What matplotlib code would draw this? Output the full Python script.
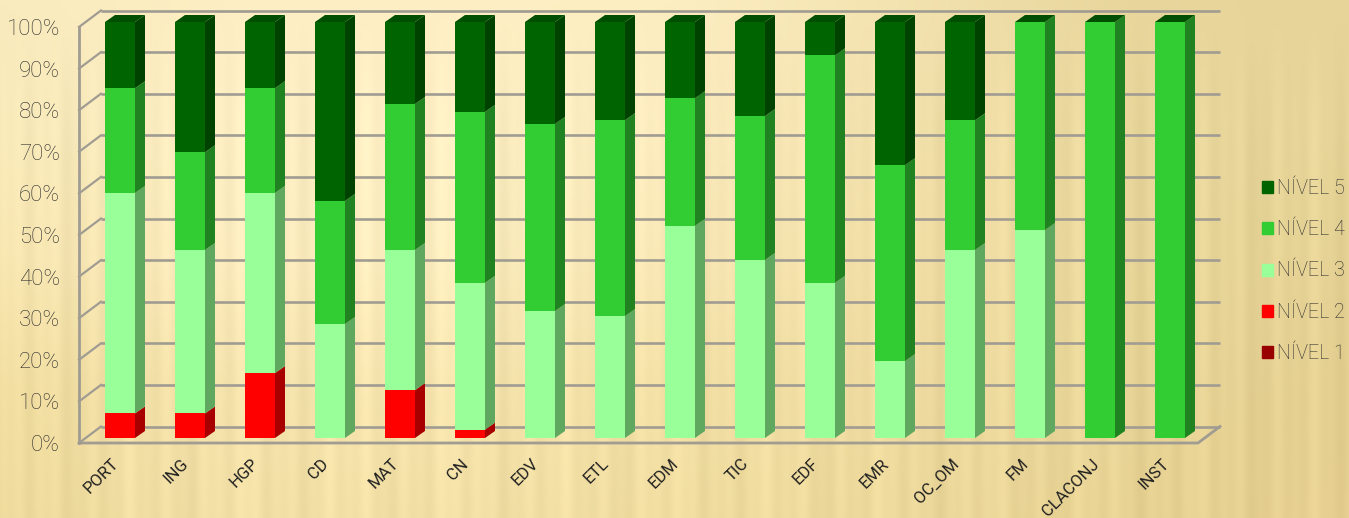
import matplotlib
matplotlib.use("Agg")
import matplotlib.pyplot as plt
from matplotlib.patches import Patch
from matplotlib.transforms import ScaledTranslation
import numpy as np

categories = ["PORT", "ING", "HGP", "CD", "MAT", "CN", "EDV", "ETL", "EDM", "TIC",
              "EDF", "EMR", "OC_OM", "FM", "CLACONJ", "INST"]
# percent of each level per subject
nivel1 = [0, 0, 0, 0, 0, 0, 0, 0, 0, 0, 0, 0, 0, 0, 0, 0]
nivel2 = [5.9, 5.9, 15.6, 0, 11.5, 2, 0, 0, 0, 0, 0, 0, 0, 0, 0, 0]
nivel3 = [53, 39.3, 43.3, 27.4, 33.7, 35.3, 30.5, 29.3, 51, 42.8, 37.3, 18.5, 45.2, 50, 0, 0]
nivel4 = [25.2, 23.5, 25.2, 29.6, 35.1, 41.1, 45, 47.1, 30.7, 34.6, 54.7, 47.1, 31.2, 50, 100, 100]
nivel5 = [15.9, 31.3, 15.9, 43, 19.7, 21.6, 24.5, 23.6, 18.3, 22.6, 8, 34.4, 23.6, 0, 0, 0]
levels = [nivel1, nivel2, nivel3, nivel4, nivel5]
level_names = ["NÍVEL 1", "NÍVEL 2", "NÍVEL 3", "NÍVEL 4", "NÍVEL 5"]
front_colors = ["#990000", "#FF0000", "#99FF99", "#32CD32", "#006400"]
side_colors = ["#660000", "#A80000", "#60A860", "#218221", "#004200"]
top_color = "#004F00"
y_ticks = [0, 10, 20, 30, 40, 50, 60, 70, 80, 90, 100]

W, H = 1349, 518
GRID = "#A09C92"
TEXT = "#2E2E2E"

# background colours, coarse grid, blended smoothly
bg_rows = [
    ["#F9EBBD", "#FDEFC3", "#FEF0C4", "#FDEEC2", "#F3E3B0", "#E8D69C", "#E6D498"],
    ["#F7E8B8", "#FDEFC3", "#FEF0C4", "#FBEBBD", "#F3E1AB", "#E9D79C", "#E6D498"],
    ["#F5E4AE", "#FCECBE", "#FCEDBE", "#F8E7B5", "#F2DFA6", "#E9D69A", "#E5D294"],
    ["#F0DC9F", "#F5E3AC", "#F6E5AE", "#F3E0A5", "#EFDBA0", "#E8D597", "#E4CF90"],
    ["#EDD99A", "#F3E0A6", "#F3E0A6", "#F1DDA0", "#EDD99B", "#E8D394", "#E6CF90"],
]


def bg_image():
    rgb = np.array([[matplotlib.colors.to_rgb(c) for c in row] for row in bg_rows])
    xs = np.linspace(0, rgb.shape[1] - 1, W)
    ys = np.linspace(0, rgb.shape[0] - 1, H)
    out = np.zeros((H, W, 3))
    for k in range(3):
        tmp = np.array([np.interp(xs, np.arange(rgb.shape[1]), r) for r in rgb[:, :, k]])
        out[:, :, k] = np.array([np.interp(ys, np.arange(rgb.shape[0]), tmp[:, i]) for i in range(W)]).T
    # faint vertical streaks of the paper texture
    px = np.arange(W)
    streak = 0.012 * np.sin(px / 6.3) + 0.009 * np.sin(px / 2.9 + 1.0) + 0.008 * np.sin(px / 17.0)
    fade = np.clip((np.arange(H) - 20) / 120, 0, 1)
    return np.clip(out + np.outer(fade, streak)[:, :, None], 0, 1)


fig = plt.figure(figsize=(W / 100, H / 100), dpi=100)
plt.rcParams["font.family"] = ["Roboto", "DejaVu Sans"]

bg = fig.add_axes([0, 0, 1, 1], zorder=0)
bg.imshow(bg_image(), aspect="auto")
bg.axis("off")

# front plane of the bars: category i centred at 120+70i px, 0-100 % between y=438 and y=22
ax = fig.add_axes([85 / W, 1 - 438 / H, 1120 / W, 416 / H], zorder=1)
ax.set_xlim(-0.5, 15.5)
ax.set_ylim(0, 100)
ax.patch.set_alpha(0)
for s in ax.spines.values():
    s.set_visible(False)

ux = 70.0  # px per category
uy = 4.16  # px per percent
dx = 10 / ux  # bar depth
dy = 7 / uy
wall_l = -0.5 - 6 / ux
wall_r = 15.5 - 7 / ux
wall_f = -5 / uy  # front edge offset
wall_dx = 22 / ux
wall_dy = 16.5 / uy

# walls and gridlines
for t in y_ticks:
    ax.plot([wall_l + wall_dx, wall_r + wall_dx], [t + wall_f + wall_dy] * 2, color=GRID, lw=1.9,
            clip_on=False, zorder=1, solid_capstyle="butt")
    ax.plot([wall_l, wall_l + wall_dx], [t + wall_f, t + wall_f + wall_dy], color=GRID, lw=1.6,
            clip_on=False, zorder=1)
ax.plot([wall_l, wall_l], [wall_f, 100 + wall_f], color=GRID, lw=2.0, clip_on=False, zorder=1)
ax.plot([wall_l, wall_r, wall_r + wall_dx], [wall_f, wall_f, wall_f + wall_dy], color=GRID, lw=2.0,
        clip_on=False, zorder=1)

# stacked bars with their side and top faces
bar_w = 30 / ux
positions = np.arange(len(categories))
bottoms = np.zeros(len(categories))
for vals, fc, sc in zip(levels, front_colors, side_colors):
    vals = np.array(vals, dtype=float)
    for p, b, v in zip(positions, bottoms, vals):
        if v <= 0:
            continue
        r = p + bar_w / 2
        ax.fill([r, r + dx, r + dx, r], [b, b + dy, b + v + dy, b + v], color=sc, lw=0, zorder=3, clip_on=False)
    ax.bar(positions, vals, bar_w, bottom=bottoms, color=fc, zorder=4, clip_on=False)
    bottoms += vals

# the cap stays dark green even when level 5 is empty
for p, b in zip(positions, bottoms):
    l, r = p - bar_w / 2, p + bar_w / 2
    ax.fill([l, r, r + dx, l + dx], [b, b, b + dy, b + dy], color=top_color, lw=0, zorder=3, clip_on=False)

ax.set_yticks(y_ticks)
ax.set_yticklabels([f"{t}%" for t in y_ticks], fontsize=16, color=TEXT, fontweight="light")
ax.tick_params(axis="y", length=0, pad=18)
shift_y = ScaledTranslation(0, -5 / 100, fig.dpi_scale_trans)
for lab in ax.get_yticklabels():
    lab.set_transform(lab.get_transform() + shift_y)

ax.set_xticks(positions)
ax.set_xticklabels(categories, rotation=45, ha="right", va="top", rotation_mode="anchor",
                   fontsize=12, color="#202020")
ax.tick_params(axis="x", length=0, pad=13)
shift_x = ScaledTranslation(-9 / 100, 0, fig.dpi_scale_trans)
for lab in ax.get_xticklabels():
    lab.set_transform(lab.get_transform() + shift_x)

handles = [Patch(color=c, label=n) for c, n in zip(front_colors[::-1], level_names[::-1])]
fig.legend(handles=handles, loc="center left", bbox_to_anchor=(1262 / W, 1 - 271 / H), frameon=False,
           labelcolor=TEXT, handlelength=0.56, handleheight=0.56,
           handletextpad=0.2, labelspacing=1.12, borderpad=0, borderaxespad=0,
           prop={"family": "Roboto", "weight": "light", "size": 14.2})

fig.savefig("out.png", dpi=100)
